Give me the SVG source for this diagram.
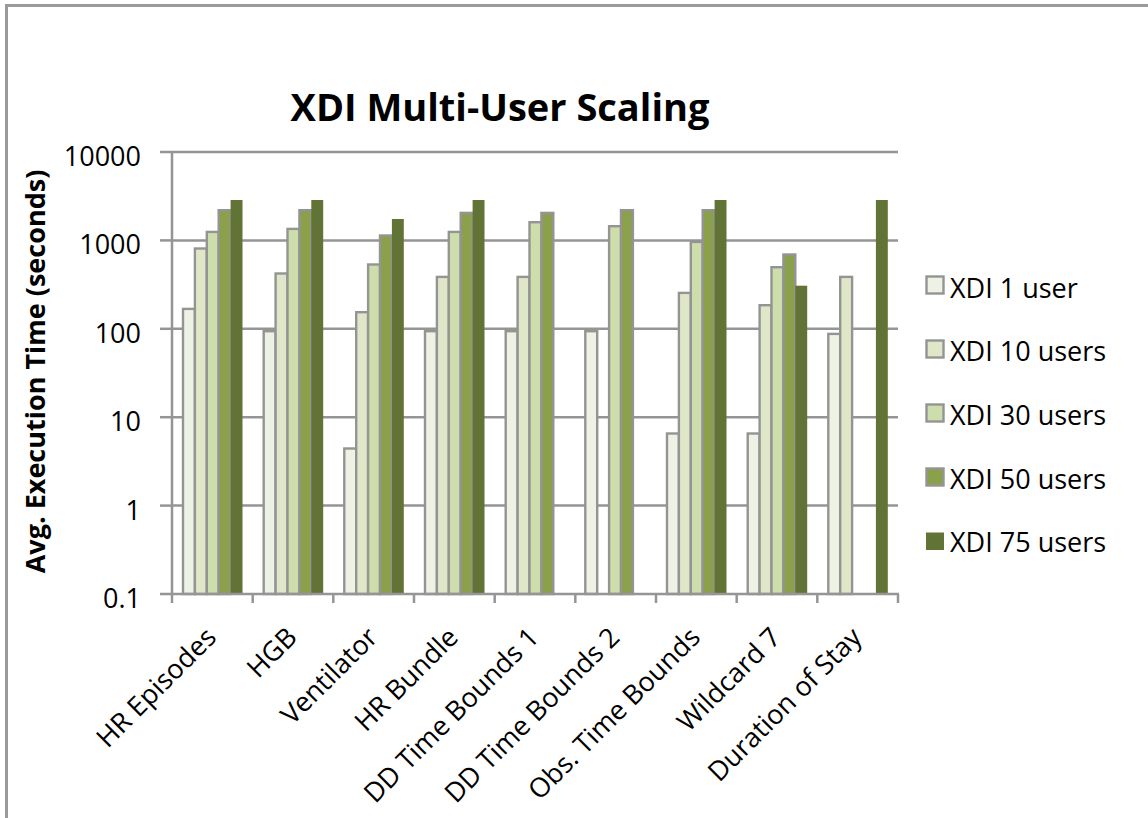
<svg xmlns="http://www.w3.org/2000/svg" width="1148" height="818" viewBox="0 0 1148 818">
<style>
.grid{stroke:#959595;stroke-width:2.5;fill:none}
.axis{stroke:#959595;stroke-width:2.5;fill:none}
.s0{fill:#EEF2E4;stroke:#949494;stroke-width:2.4}
.s1{fill:#DFE7C8;stroke:#949494;stroke-width:2.4}
.s2{fill:#CEDDAC;stroke:#949494;stroke-width:2.4}
.s3{fill:#8BA04B;stroke:#949494;stroke-width:2.4}
.s4{fill:#617435}
.t{font-family:"Open Sans","Liberation Sans",sans-serif;font-size:27px;fill:#000}
.b{font-family:"Open Sans","Liberation Sans",sans-serif;font-weight:bold;fill:#000}
</style>
<rect width="1148" height="818" fill="#fff"/>
<rect x="6.5" y="5.5" width="1160" height="830" fill="none" stroke="#9a9a9a" stroke-width="3"/>
<text class="b" x="500" y="121" font-size="38" text-anchor="middle">XDI Multi-User Scaling</text>
<text class="b" font-size="27" text-anchor="middle" transform="translate(45,371.5) rotate(-90)">Avg. Execution Time (seconds)</text>
<g id="gridlines">
<line class="grid" x1="172" y1="152" x2="898" y2="152"/>
<line class="grid" x1="172" y1="240.4" x2="898" y2="240.4"/>
<line class="grid" x1="172" y1="328.8" x2="898" y2="328.8"/>
<line class="grid" x1="172" y1="417.2" x2="898" y2="417.2"/>
<line class="grid" x1="172" y1="505.6" x2="898" y2="505.6"/>
</g>
<g id="ylabels" class="t" text-anchor="end">
<text x="141" y="166">10000</text>
<text x="141" y="254.4">1000</text>
<text x="141" y="342.8">100</text>
<text x="141" y="431.2">10</text>
<text x="141" y="519.6">1</text>
<text x="141" y="608">0.1</text>
</g>
<g id="bars">
<g id="cat1">
<rect class="s0" x="183" y="308.9" width="11.9" height="285.1"/>
<rect class="s1" x="194.9" y="248.5" width="11.9" height="345.5"/>
<rect class="s2" x="206.8" y="231.9" width="11.9" height="362.1"/>
<rect class="s3" x="218.7" y="210.2" width="11.9" height="383.8"/>
<rect class="s4" x="230.6" y="200" width="11.9" height="394"/>
</g>
<g id="cat2">
<rect class="s0" x="263.7" y="331.2" width="11.9" height="262.8"/>
<rect class="s1" x="275.6" y="273.5" width="11.9" height="320.5"/>
<rect class="s2" x="287.5" y="228.9" width="11.9" height="365.1"/>
<rect class="s3" x="299.4" y="210.2" width="11.9" height="383.8"/>
<rect class="s4" x="311.3" y="200" width="11.9" height="394"/>
</g>
<g id="cat3">
<rect class="s0" x="344.3" y="448.5" width="11.9" height="145.5"/>
<rect class="s1" x="356.2" y="312.2" width="11.9" height="281.8"/>
<rect class="s2" x="368.1" y="264.5" width="11.9" height="329.5"/>
<rect class="s3" x="380" y="235.5" width="11.9" height="358.5"/>
<rect class="s4" x="391.9" y="219" width="11.9" height="375"/>
</g>
<g id="cat4">
<rect class="s0" x="425" y="331.2" width="11.9" height="262.8"/>
<rect class="s1" x="436.9" y="276.9" width="11.9" height="317.1"/>
<rect class="s2" x="448.8" y="231.9" width="11.9" height="362.1"/>
<rect class="s3" x="460.7" y="212.9" width="11.9" height="381.1"/>
<rect class="s4" x="472.6" y="200" width="11.9" height="394"/>
</g>
<g id="cat5">
<rect class="s0" x="505.7" y="331.2" width="11.9" height="262.8"/>
<rect class="s1" x="517.6" y="276.9" width="11.9" height="317.1"/>
<rect class="s2" x="529.5" y="222.2" width="11.9" height="371.8"/>
<rect class="s3" x="541.4" y="212.9" width="11.9" height="381.1"/>
</g>
<g id="cat6">
<rect class="s0" x="585.3" y="331.2" width="11.9" height="262.8"/>
<rect class="s2" x="609.1" y="226.2" width="11.9" height="367.8"/>
<rect class="s3" x="621" y="210.2" width="11.9" height="383.8"/>
</g>
<g id="cat7">
<rect class="s0" x="667" y="433.5" width="11.9" height="160.5"/>
<rect class="s1" x="678.9" y="292.9" width="11.9" height="301.1"/>
<rect class="s2" x="690.8" y="241.9" width="11.9" height="352.1"/>
<rect class="s3" x="702.7" y="210.2" width="11.9" height="383.8"/>
<rect class="s4" x="714.6" y="200" width="11.9" height="394"/>
</g>
<g id="cat8">
<rect class="s0" x="747.7" y="433.5" width="11.9" height="160.5"/>
<rect class="s1" x="759.6" y="305.2" width="11.9" height="288.8"/>
<rect class="s2" x="771.5" y="267.2" width="11.9" height="326.8"/>
<rect class="s3" x="783.4" y="254.5" width="11.9" height="339.5"/>
<rect class="s4" x="795.3" y="285.7" width="11.9" height="308.3"/>
</g>
<g id="cat9">
<rect class="s0" x="828.3" y="333.9" width="11.9" height="260.1"/>
<rect class="s1" x="840.2" y="276.9" width="11.9" height="317.1"/>
<rect class="s4" x="875.9" y="200" width="11.9" height="394"/>
</g>
</g>
<g id="axes">
<line class="axis" x1="172" y1="151" x2="172" y2="595"/>
<line class="axis" x1="160" y1="152" x2="172" y2="152"/>
<line class="axis" x1="160" y1="240.4" x2="172" y2="240.4"/>
<line class="axis" x1="160" y1="328.8" x2="172" y2="328.8"/>
<line class="axis" x1="160" y1="417.2" x2="172" y2="417.2"/>
<line class="axis" x1="160" y1="505.6" x2="172" y2="505.6"/>
<line class="axis" x1="160" y1="594" x2="899" y2="594"/>
<line class="axis" x1="172" y1="594" x2="172" y2="603"/>
<line class="axis" x1="252.7" y1="594" x2="252.7" y2="603"/>
<line class="axis" x1="333.3" y1="594" x2="333.3" y2="603"/>
<line class="axis" x1="414" y1="594" x2="414" y2="603"/>
<line class="axis" x1="494.7" y1="594" x2="494.7" y2="603"/>
<line class="axis" x1="575.3" y1="594" x2="575.3" y2="603"/>
<line class="axis" x1="656" y1="594" x2="656" y2="603"/>
<line class="axis" x1="736.7" y1="594" x2="736.7" y2="603"/>
<line class="axis" x1="817.3" y1="594" x2="817.3" y2="603"/>
<line class="axis" x1="898" y1="594" x2="898" y2="603"/>
</g>
<g id="xlabels" class="t" text-anchor="end">
<text transform="translate(217.8,639) rotate(-45)">HR Episodes</text>
<text transform="translate(298.5,639) rotate(-45)">HGB</text>
<text transform="translate(379.2,639) rotate(-45)">Ventilator</text>
<text transform="translate(459.8,639) rotate(-45)">HR Bundle</text>
<text transform="translate(540.5,639) rotate(-45)">DD Time Bounds 1</text>
<text transform="translate(621.2,639) rotate(-45)">DD Time Bounds 2</text>
<text transform="translate(701.8,639) rotate(-45)">Obs. Time Bounds</text>
<text transform="translate(782.5,639) rotate(-45)">Wildcard 7</text>
<text transform="translate(863.2,639) rotate(-45)">Duration of Stay</text>
</g>
<g id="legend">
<g id="leg1"><rect class="s0" x="926.5" y="276.5" width="17" height="17"/><text class="t" x="950" y="298">XDI 1 user</text></g>
<g id="leg2"><rect class="s1" x="926.5" y="340.5" width="17" height="17"/><text class="t" x="950" y="361">XDI 10 users</text></g>
<g id="leg3"><rect class="s2" x="926.5" y="404.5" width="17" height="17"/><text class="t" x="950" y="425">XDI 30 users</text></g>
<g id="leg4"><rect class="s3" x="926.5" y="468.5" width="17" height="17"/><text class="t" x="950" y="489">XDI 50 users</text></g>
<g id="leg5"><rect class="s4" x="926" y="532.5" width="18" height="17.5"/><text class="t" x="950" y="552">XDI 75 users</text></g>
</g>
</svg>
